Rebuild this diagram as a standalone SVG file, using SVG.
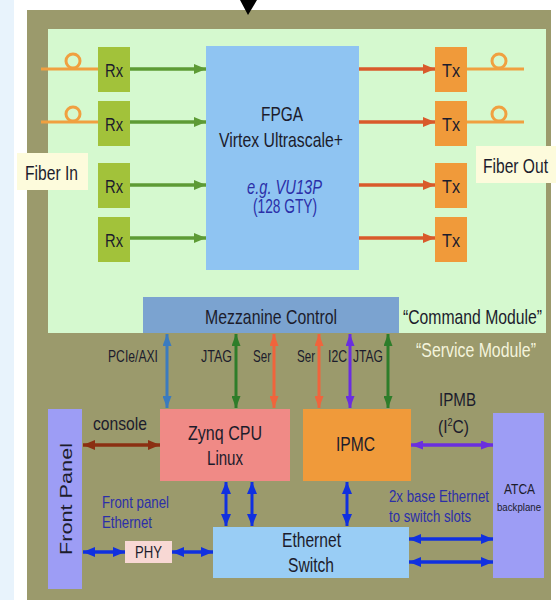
<svg xmlns="http://www.w3.org/2000/svg" width="556" height="600" viewBox="0 0 556 600">
<defs>
<style>
text{font-family:"Liberation Sans",Arial,sans-serif;fill:#1c1c2c}
.lg{font-size:21px}
.md{font-size:19px}
.sm{font-size:17px}
.bl{fill:#2b2fa8}
.fib{stroke:#f0a040;stroke-width:3;fill:none}
.ga{stroke:#5d9b35;stroke-width:3.5;marker-end:url(#mG)}
.ra{stroke:#d95a2b;stroke-width:3.5;marker-end:url(#mR)}
</style>
<marker id="mG" viewBox="0 0 12 10" refX="12" refY="5" markerWidth="12" markerHeight="10" markerUnits="userSpaceOnUse" orient="auto"><path d="M0,0L12,5L0,10z" fill="#5d9b35"/></marker>
<marker id="mR" viewBox="0 0 12 10" refX="12" refY="5" markerWidth="12" markerHeight="10" markerUnits="userSpaceOnUse" orient="auto"><path d="M0,0L12,5L0,10z" fill="#d95a2b"/></marker>
<marker id="dB" viewBox="0 0 12 9" refX="12" refY="4.5" markerWidth="12" markerHeight="9" markerUnits="userSpaceOnUse" orient="auto-start-reverse"><path d="M0,0L12,4.5L0,9z" fill="#3b7bbf"/></marker>
<marker id="dG" viewBox="0 0 12 9" refX="12" refY="4.5" markerWidth="12" markerHeight="9" markerUnits="userSpaceOnUse" orient="auto-start-reverse"><path d="M0,0L12,4.5L0,9z" fill="#2e7d2a"/></marker>
<marker id="dO" viewBox="0 0 12 9" refX="12" refY="4.5" markerWidth="12" markerHeight="9" markerUnits="userSpaceOnUse" orient="auto-start-reverse"><path d="M0,0L12,4.5L0,9z" fill="#f0643c"/></marker>
<marker id="dP" viewBox="0 0 12 9" refX="12" refY="4.5" markerWidth="12" markerHeight="9" markerUnits="userSpaceOnUse" orient="auto-start-reverse"><path d="M0,0L12,4.5L0,9z" fill="#6a2ee0"/></marker>
<marker id="dN" viewBox="0 0 12 10" refX="12" refY="5" markerWidth="12" markerHeight="10" markerUnits="userSpaceOnUse" orient="auto-start-reverse"><path d="M0,0L12,5L0,10z" fill="#8b2f12"/></marker>
<marker id="dE" viewBox="0 0 12 10" refX="12" refY="5" markerWidth="12" markerHeight="10" markerUnits="userSpaceOnUse" orient="auto-start-reverse"><path d="M0,0L12,5L0,10z" fill="#1030e0"/></marker>
</defs>

<g id="background">
<rect x="0" y="0" width="556" height="600" fill="#ffffff"/>
<rect x="0" y="0" width="14" height="600" fill="#e8f3fc"/>
<rect x="27" y="10" width="524" height="590" fill="#9b9a6c"/>
<rect x="48" y="29" width="498" height="304" fill="#d5f9cf"/>
<path d="M240,0L257,0L248,15z" fill="#000000"/>
</g>

<g id="fiber-in"><rect x="17" y="153" width="71" height="37" fill="#fdfbdc"/><text class="lg" x="25" y="180" textLength="53" lengthAdjust="spacingAndGlyphs">Fiber In</text></g>
<g id="fiber-out"><rect x="476" y="146" width="80" height="37" fill="#fdfbdc"/><text class="lg" x="483" y="173" textLength="65" lengthAdjust="spacingAndGlyphs">Fiber Out</text></g>

<g id="rx1"><rect x="98" y="47" width="32" height="45" fill="#a2c23a"/><text class="md" x="105" y="77" textLength="18" lengthAdjust="spacingAndGlyphs">Rx</text></g>
<g id="rx2"><rect x="98" y="101" width="32" height="45" fill="#a2c23a"/><text class="md" x="105" y="131" textLength="18" lengthAdjust="spacingAndGlyphs">Rx</text></g>
<g id="rx3"><rect x="98" y="163" width="32" height="45" fill="#a2c23a"/><text class="md" x="105" y="193" textLength="18" lengthAdjust="spacingAndGlyphs">Rx</text></g>
<g id="rx4"><rect x="98" y="217" width="32" height="45" fill="#a2c23a"/><text class="md" x="105" y="247" textLength="18" lengthAdjust="spacingAndGlyphs">Rx</text></g>

<g id="tx1"><rect x="435" y="47" width="32" height="45" fill="#f09a3a"/><text class="md" x="442" y="77" textLength="18" lengthAdjust="spacingAndGlyphs">Tx</text></g>
<g id="tx2"><rect x="435" y="101" width="32" height="45" fill="#f09a3a"/><text class="md" x="442" y="131" textLength="18" lengthAdjust="spacingAndGlyphs">Tx</text></g>
<g id="tx3"><rect x="435" y="163" width="32" height="45" fill="#f09a3a"/><text class="md" x="442" y="193" textLength="18" lengthAdjust="spacingAndGlyphs">Tx</text></g>
<g id="tx4"><rect x="435" y="217" width="32" height="45" fill="#f09a3a"/><text class="md" x="442" y="247" textLength="18" lengthAdjust="spacingAndGlyphs">Tx</text></g>

<g id="fpga">
<rect x="206" y="46" width="153" height="224" fill="#8fc4f2"/>
<text class="lg" x="261" y="121" textLength="42" lengthAdjust="spacingAndGlyphs">FPGA</text>
<text class="lg" x="219" y="147" textLength="124" lengthAdjust="spacingAndGlyphs">Virtex Ultrascale+</text>
<text class="bl" style="font-size:20px;font-style:italic" x="247" y="194" textLength="75" lengthAdjust="spacingAndGlyphs">e.g. VU13P</text>
<text class="bl" style="font-size:20px" x="253" y="213" textLength="64" lengthAdjust="spacingAndGlyphs">(128 GTY)</text>
</g>

<g id="mezzanine"><rect x="143" y="297" width="256" height="36" fill="#7ba3d0"/><text class="lg" x="205" y="324" textLength="132" lengthAdjust="spacingAndGlyphs">Mezzanine Control</text></g>

<g id="module-labels">
<text class="lg" x="403" y="324" textLength="139" lengthAdjust="spacingAndGlyphs">“Command Module”</text>
<text class="lg" x="416" y="357" textLength="120" lengthAdjust="spacingAndGlyphs" style="fill:#f4f4dc">“Service Module”</text>
</g>

<g id="zynq"><rect x="160" y="409" width="130" height="72" fill="#f08a86"/><text class="lg" x="188" y="440" textLength="74" lengthAdjust="spacingAndGlyphs">Zynq CPU</text><text class="lg" x="207" y="465" textLength="36" lengthAdjust="spacingAndGlyphs">Linux</text></g>
<g id="ipmc"><rect x="303" y="409" width="108" height="72" fill="#f09a3a"/><text class="lg" x="336" y="451" textLength="39" lengthAdjust="spacingAndGlyphs">IPMC</text></g>
<g id="front-panel"><rect x="48" y="409" width="34" height="180" fill="#9d9df5"/><text transform="translate(72,555) rotate(-90)" x="0" y="0" style="font-size:17px" textLength="112" lengthAdjust="spacingAndGlyphs">Front Panel</text></g>
<g id="atca"><rect x="493" y="413" width="51" height="165" fill="#9d9df5"/><text style="font-size:15px" x="504" y="494" textLength="31" lengthAdjust="spacingAndGlyphs">ATCA</text><text style="font-size:11px" x="497" y="511" textLength="44" lengthAdjust="spacingAndGlyphs">backplane</text></g>
<g id="ethernet-switch"><rect x="213" y="527" width="196" height="51" fill="#99cdf5"/><text class="lg" x="282" y="547" textLength="59" lengthAdjust="spacingAndGlyphs">Ethernet</text><text class="lg" x="288" y="572" textLength="46" lengthAdjust="spacingAndGlyphs">Switch</text></g>
<g id="phy"><rect x="125" y="541" width="47" height="22" fill="#f8d8d4"/><text class="sm" x="135" y="558" textLength="27" lengthAdjust="spacingAndGlyphs">PHY</text></g>

<g id="connectors">
<path class="fib" d="M41,69H98M41,122H98M467,69H524M467,122H524"/>
<circle class="fib" cx="73" cy="61" r="7"/><circle class="fib" cx="73" cy="114" r="7"/>
<circle class="fib" cx="499" cy="61" r="7"/><circle class="fib" cx="499" cy="114" r="7"/>
<line class="ga" x1="130" y1="69" x2="206" y2="69"/>
<line class="ga" x1="130" y1="122" x2="206" y2="122"/>
<line class="ga" x1="130" y1="185" x2="206" y2="185"/>
<line class="ga" x1="130" y1="238" x2="206" y2="238"/>
<line class="ra" x1="359" y1="69" x2="435" y2="69"/>
<line class="ra" x1="359" y1="122" x2="435" y2="122"/>
<line class="ra" x1="359" y1="185" x2="435" y2="185"/>
<line class="ra" x1="359" y1="238" x2="435" y2="238"/>
<line x1="167" y1="334" x2="167" y2="408" stroke="#3b7bbf" stroke-width="3" marker-start="url(#dB)" marker-end="url(#dB)"/>
<line x1="236" y1="334" x2="236" y2="408" stroke="#2e7d2a" stroke-width="3" marker-start="url(#dG)" marker-end="url(#dG)"/>
<line x1="274" y1="334" x2="274" y2="408" stroke="#f0643c" stroke-width="3" marker-start="url(#dO)" marker-end="url(#dO)"/>
<line x1="319" y1="334" x2="319" y2="408" stroke="#f0643c" stroke-width="3" marker-start="url(#dO)" marker-end="url(#dO)"/>
<line x1="350" y1="334" x2="350" y2="408" stroke="#6a2ee0" stroke-width="3" marker-start="url(#dP)" marker-end="url(#dP)"/>
<line x1="388" y1="334" x2="388" y2="408" stroke="#2e7d2a" stroke-width="3" marker-start="url(#dG)" marker-end="url(#dG)"/>
<line x1="83" y1="445" x2="160" y2="445" stroke="#8b2f12" stroke-width="3.5" marker-start="url(#dN)" marker-end="url(#dN)"/>
<line x1="411" y1="445" x2="493" y2="445" stroke="#6a2ee0" stroke-width="3.5" marker-start="url(#dP)" marker-end="url(#dP)"/>
<line x1="226" y1="482" x2="226" y2="526" stroke="#1030e0" stroke-width="3" marker-start="url(#dE)" marker-end="url(#dE)"/>
<line x1="252" y1="482" x2="252" y2="526" stroke="#1030e0" stroke-width="3" marker-start="url(#dE)" marker-end="url(#dE)"/>
<line x1="347" y1="482" x2="347" y2="526" stroke="#1030e0" stroke-width="3" marker-start="url(#dE)" marker-end="url(#dE)"/>
<line x1="83" y1="552" x2="125" y2="552" stroke="#1030e0" stroke-width="3.5" marker-start="url(#dE)" marker-end="url(#dE)"/>
<line x1="172" y1="552" x2="213" y2="552" stroke="#1030e0" stroke-width="3.5" marker-start="url(#dE)" marker-end="url(#dE)"/>
<line x1="409" y1="539" x2="493" y2="539" stroke="#1030e0" stroke-width="3.5" marker-start="url(#dE)" marker-end="url(#dE)"/>
<line x1="409" y1="562" x2="493" y2="562" stroke="#1030e0" stroke-width="3.5" marker-start="url(#dE)" marker-end="url(#dE)"/>
</g>

<g id="connector-labels">
<text class="sm" x="108" y="362" textLength="50" lengthAdjust="spacingAndGlyphs">PCIe/AXI</text>
<text class="sm" x="201" y="362" textLength="31" lengthAdjust="spacingAndGlyphs">JTAG</text>
<text class="sm" x="253" y="362" textLength="18" lengthAdjust="spacingAndGlyphs">Ser</text>
<text class="sm" x="297" y="362" textLength="18" lengthAdjust="spacingAndGlyphs">Ser</text>
<text class="sm" x="328" y="362" textLength="19" lengthAdjust="spacingAndGlyphs">I2C</text>
<text class="sm" x="353" y="362" textLength="30" lengthAdjust="spacingAndGlyphs">JTAG</text>
<text class="md" x="93" y="430" textLength="54" lengthAdjust="spacingAndGlyphs">console</text>
<text class="md" x="439" y="406" textLength="37" lengthAdjust="spacingAndGlyphs">IPMB</text>
<text class="md" x="438" y="433" textLength="31" lengthAdjust="spacingAndGlyphs">(I<tspan dy="-7" style="font-size:11px">2</tspan><tspan dy="7">C)</tspan></text>
<text class="sm bl" x="102" y="508" textLength="67" lengthAdjust="spacingAndGlyphs">Front panel</text>
<text class="sm bl" x="102" y="528" textLength="50" lengthAdjust="spacingAndGlyphs">Ethernet</text>
<text class="sm bl" x="389" y="502" textLength="100" lengthAdjust="spacingAndGlyphs">2x base Ethernet</text>
<text class="sm bl" x="389" y="522" textLength="82" lengthAdjust="spacingAndGlyphs">to switch slots</text>
</g>
</svg>
